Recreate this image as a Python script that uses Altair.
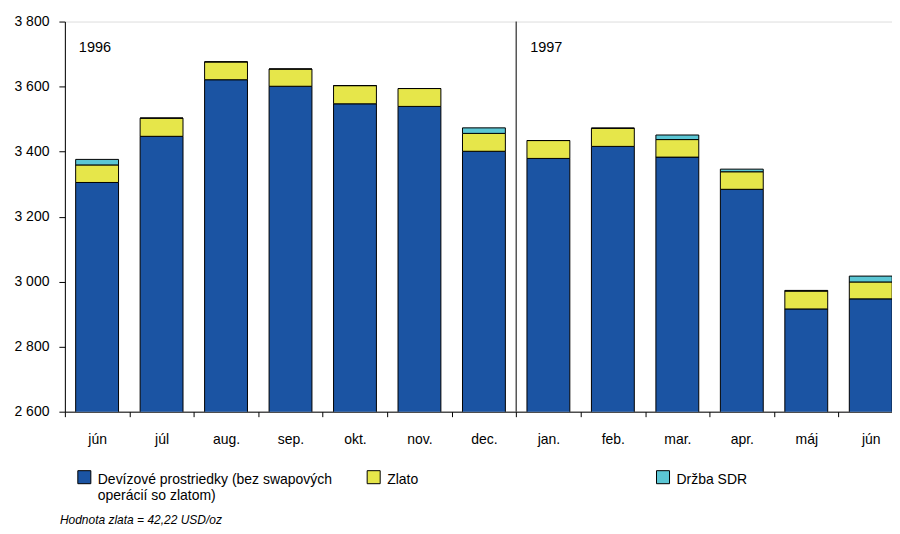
import altair as alt
import pandas as pd

months = ["jún|1996", "júl|1996", "aug.|1996", "sep.|1996", "okt.|1996", "nov.|1996", "dec.|1996",
          "jan.|1997", "feb.|1997", "mar.|1997", "apr.|1997", "máj|1997", "jún|1997"]
devizy = [3305, 3447, 3621, 3601, 3547, 3539, 3401, 3379, 3416, 3383, 3284, 2916, 2947]
zlato = [54, 56, 55, 53, 56, 55, 55, 55, 56, 54, 54, 55, 52]
sdr = [17, 0, 0, 0, 0, 0, 17, 0, 0, 14, 8, 2, 18]

series = ["Devízové prostriedky (bez swapových operácií so zlatom)", "Zlato", "Držba SDR"]
colors = ["#1B54A3", "#E6E64A", "#5BC6D4"]

years = ["1996", "1997"]
year_start = ["jún|1996", "jan.|1997"]

rows = []
for i, m in enumerate(months):
    for k, (s, v) in enumerate(zip(series, [devizy[i], zlato[i], sdr[i]])):
        rows.append({"month": m, "series": s, "value": v, "order": k})
df = pd.DataFrame(rows)
ydf = pd.DataFrame({"month": year_start, "year": years, "y": [3720, 3720]})
sep_df = pd.DataFrame({"month": ["jan.|1997"]})

FONT = "Liberation Sans"

xscale = alt.Scale(domain=months, paddingInner=0, paddingOuter=0)
yscale = alt.Scale(domain=[2600, 3800], zero=False, nice=False)

label_expr = ("datum.label == 'Devízové prostriedky (bez swapových operácií so zlatom)' "
              "? ['Devízové prostriedky (bez swapových', 'operácií so zlatom)'] "
              ": [datum.label, '']")

bars = alt.Chart(df).mark_bar(
    width=alt.RelativeBandSize(0.665), stroke="black", strokeWidth=1, clip=True
).encode(
    x=alt.X("month:N", scale=xscale, sort=months, title=None,
            axis=alt.Axis(labelExpr="split(datum.label, '|')[0]", labelAngle=0,
                          tickBand="extent", labelFontSize=14, labelFont=FONT,
                          labelColor="black", domainColor="black", tickColor="black",
                          tickSize=5, labelPadding=16)),
    y=alt.Y("value:Q", stack="zero", scale=yscale, title=None,
            axis=alt.Axis(values=[2600, 2800, 3000, 3200, 3400, 3600, 3800],
                          labelExpr="replace(format(datum.value, ','), ',', ' ')",
                          grid=False, labelFontSize=14, labelFont=FONT, labelColor="black",
                          domainColor="black", tickColor="black", tickSize=6, labelPadding=10)),
    color=alt.Color("series:N", scale=alt.Scale(domain=series, range=colors),
                    legend=alt.Legend(title=None, orient="none", legendX=12, legendY=445,
                                      direction="horizontal", columns=3, gridAlign="all",
                                      columnPadding=32,
                                      symbolType="M-1,-0.4H1V1.6H-1Z", symbolSize=170,
                                      symbolStrokeColor="black", symbolStrokeWidth=1,
                                      labelFontSize=14, labelFont=FONT, labelColor="black",
                                      labelBaseline="top", labelOffset=6,
                                      labelLimit=400, labelExpr=label_expr)),
    order=alt.Order("order:Q"),
)

rule = alt.Chart(sep_df).mark_rule(color="black", strokeWidth=1).encode(
    x=alt.X("month:N", scale=xscale, bandPosition=0),
    y=alt.value(0), y2=alt.value(391),
)

ytext = alt.Chart(ydf).mark_text(align="left", baseline="middle", fontSize=14.5,
                                 font=FONT, dx=14, color="black").encode(
    x=alt.X("month:N", scale=xscale, bandPosition=0),
    y=alt.Y("y:Q", scale=yscale),
    text="year:N",
)

chart = alt.layer(bars, rule, ytext).properties(
    width=840, height=391,
    padding={"left": 5, "top": 6, "right": -12, "bottom": 0},
    title=alt.TitleParams("Hodnota zlata = 42,22 USD/oz", orient="bottom", anchor="start",
                          frame="group", fontStyle="italic", fontWeight="normal",
                          fontSize=12, font=FONT, color="black", dx=-5, offset=12),
).configure_view(stroke=None).configure(background="white")

chart.save("out.html", embed_options={"renderer": "svg", "actions": False})
